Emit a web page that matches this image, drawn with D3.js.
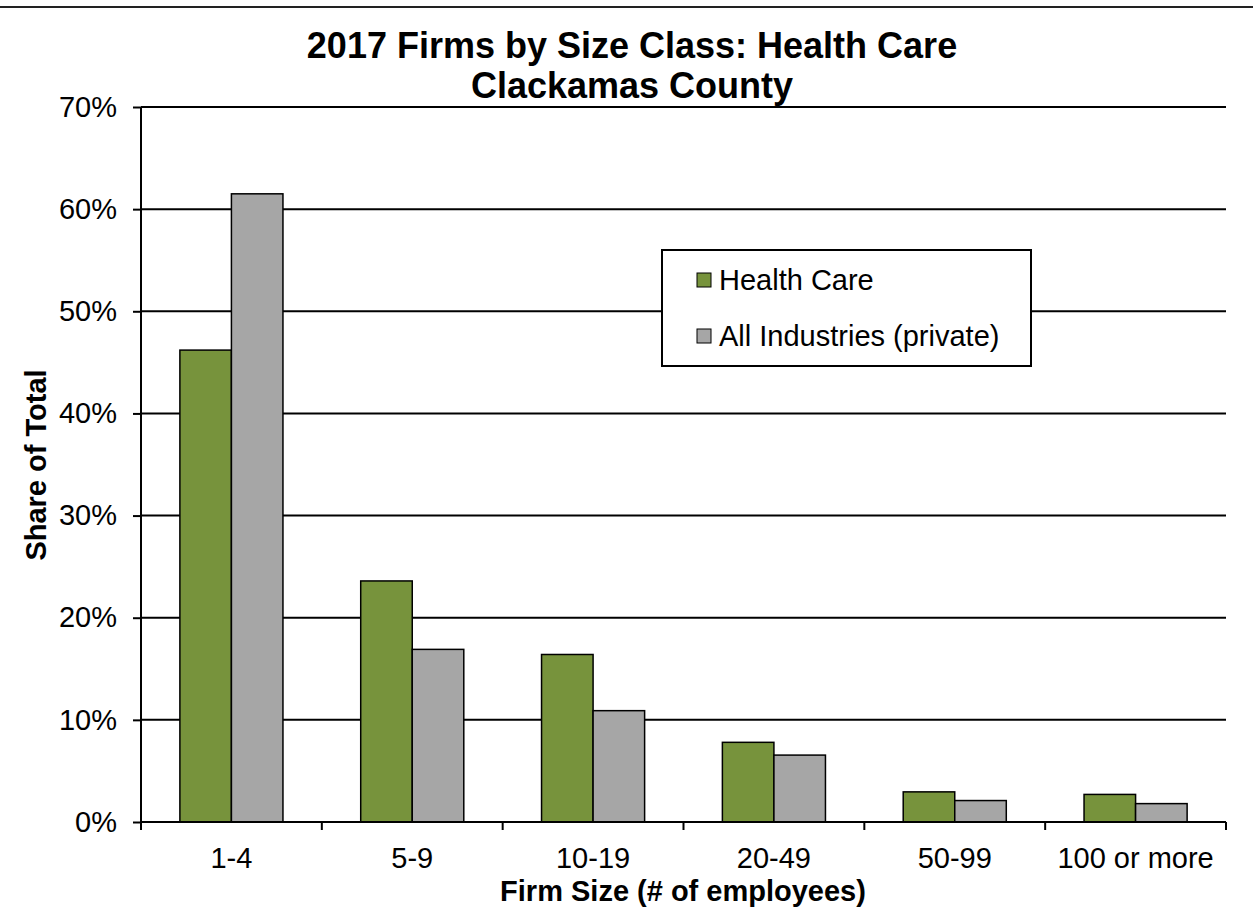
<!DOCTYPE html>
<html>
<head>
<meta charset="utf-8">
<script src="https://cdn.jsdelivr.net/npm/d3@7"></script>
<style>
body{margin:0;background:#fff;}
svg{display:block;}
text{font-family:"Liberation Sans",Arial,sans-serif;fill:#000;}
</style>
</head>
<body>
<div id="chart"></div>
<script>
// data
const categories=["1-4","5-9","10-19","20-49","50-99","100 or more"];
const seriesNames=["Health Care","All Industries (private)"];
const healthCare=[46.2,23.6,16.4,7.8,2.95,2.7];
const allIndustries=[61.5,16.9,10.9,6.55,2.1,1.8];
const yTicks=[0,10,20,30,40,50,60,70];
const colors=["#77933C","#A6A6A6"];

const W=1253,H=914;
const M={l:141,r:27,t:107,b:92};
const pw=W-M.l-M.r,ph=H-M.t-M.b;
const FS=29;

const svg=d3.select("#chart").append("svg").attr("width",W).attr("height",H);

// top rule
svg.append("line").attr("x1",0).attr("x2",W).attr("y1",7).attr("y2",7)
  .attr("stroke","#222").attr("stroke-width",2);

// title
svg.append("text").attr("x",632).attr("y",58).attr("text-anchor","middle")
  .attr("font-size",36).attr("font-weight","bold").text("2017 Firms by Size Class: Health Care");
svg.append("text").attr("x",632).attr("y",98).attr("text-anchor","middle")
  .attr("font-size",36).attr("font-weight","bold").text("Clackamas County");

const g=svg.append("g").attr("transform",`translate(${M.l},${M.t})`);

const x0=d3.scaleBand().domain(categories).range([0,pw]).paddingInner(0.43).paddingOuter(0.215);
const x1=d3.scaleBand().domain(seriesNames).range([0,x0.bandwidth()]);
const y=d3.scaleLinear().domain([0,70]).range([ph,0]);

// gridlines
g.append("g").selectAll("line").data(yTicks.filter(d=>d>0)).join("line")
  .attr("x1",0).attr("x2",pw).attr("y1",d=>y(d)).attr("y2",d=>y(d))
  .attr("stroke","#000").attr("stroke-width",2);

// bars
const rows=categories.map((c,i)=>({c,v:[healthCare[i],allIndustries[i]]}));
const grp=g.append("g").selectAll("g").data(rows).join("g")
  .attr("transform",d=>`translate(${x0(d.c)},0)`);
grp.selectAll("rect").data(d=>d.v.map((v,k)=>({k,v}))).join("rect")
  .attr("x",d=>x1(seriesNames[d.k])).attr("width",x1.bandwidth())
  .attr("y",d=>y(d.v)).attr("height",d=>ph-y(d.v))
  .attr("fill",d=>colors[d.k]).attr("stroke","#000").attr("stroke-width",1.5);

// y axis
const yAx=g.append("g").call(d3.axisLeft(y).tickValues(yTicks).tickFormat(d=>d+"%").tickSize(8).tickPadding(16));
yAx.select(".domain").attr("stroke","#000").attr("stroke-width",2).attr("d",`M0,0V${ph}`);
yAx.selectAll(".tick line").attr("stroke","#000").attr("stroke-width",2);
yAx.selectAll(".tick text").attr("font-size",FS).attr("font-family","Liberation Sans,Arial,sans-serif").attr("fill","#000");

// x axis: ticks at category boundaries
const xAx=g.append("g").attr("transform",`translate(0,${ph})`);
xAx.append("line").attr("x1",0).attr("x2",pw).attr("stroke","#000").attr("stroke-width",2);
const step=x0.step();
xAx.selectAll("line.tk").data(d3.range(categories.length+1)).join("line").attr("class","tk")
  .attr("x1",i=>i*step).attr("x2",i=>i*step).attr("y1",0).attr("y2",8)
  .attr("stroke","#000").attr("stroke-width",2);
xAx.selectAll("text").data(categories).join("text")
  .attr("x",d=>x0(d)+x0.bandwidth()/2).attr("y",46).attr("text-anchor","middle")
  .attr("font-size",FS).text(d=>d);

// axis titles
svg.append("text").attr("x",683).attr("y",901).attr("text-anchor","middle")
  .attr("font-size",FS).attr("font-weight","bold").text("Firm Size (# of employees)");
svg.append("text").attr("transform",`translate(46,465) rotate(-90)`).attr("text-anchor","middle")
  .attr("font-size",FS).attr("font-weight","bold").text("Share of Total");

// legend
const lg=svg.append("g").attr("transform","translate(662,250)");
lg.append("rect").attr("width",369).attr("height",116).attr("fill","#fff").attr("stroke","#000").attr("stroke-width",2);
seriesNames.forEach((s,i)=>{
  const ly=30+i*56;
  lg.append("rect").attr("x",35).attr("y",ly-7).attr("width",14).attr("height",14)
    .attr("fill",colors[i]).attr("stroke","#000").attr("stroke-width",1);
  lg.append("text").attr("x",57).attr("y",ly+10).attr("font-size",FS).text(s);
});
</script>
</body>
</html>
